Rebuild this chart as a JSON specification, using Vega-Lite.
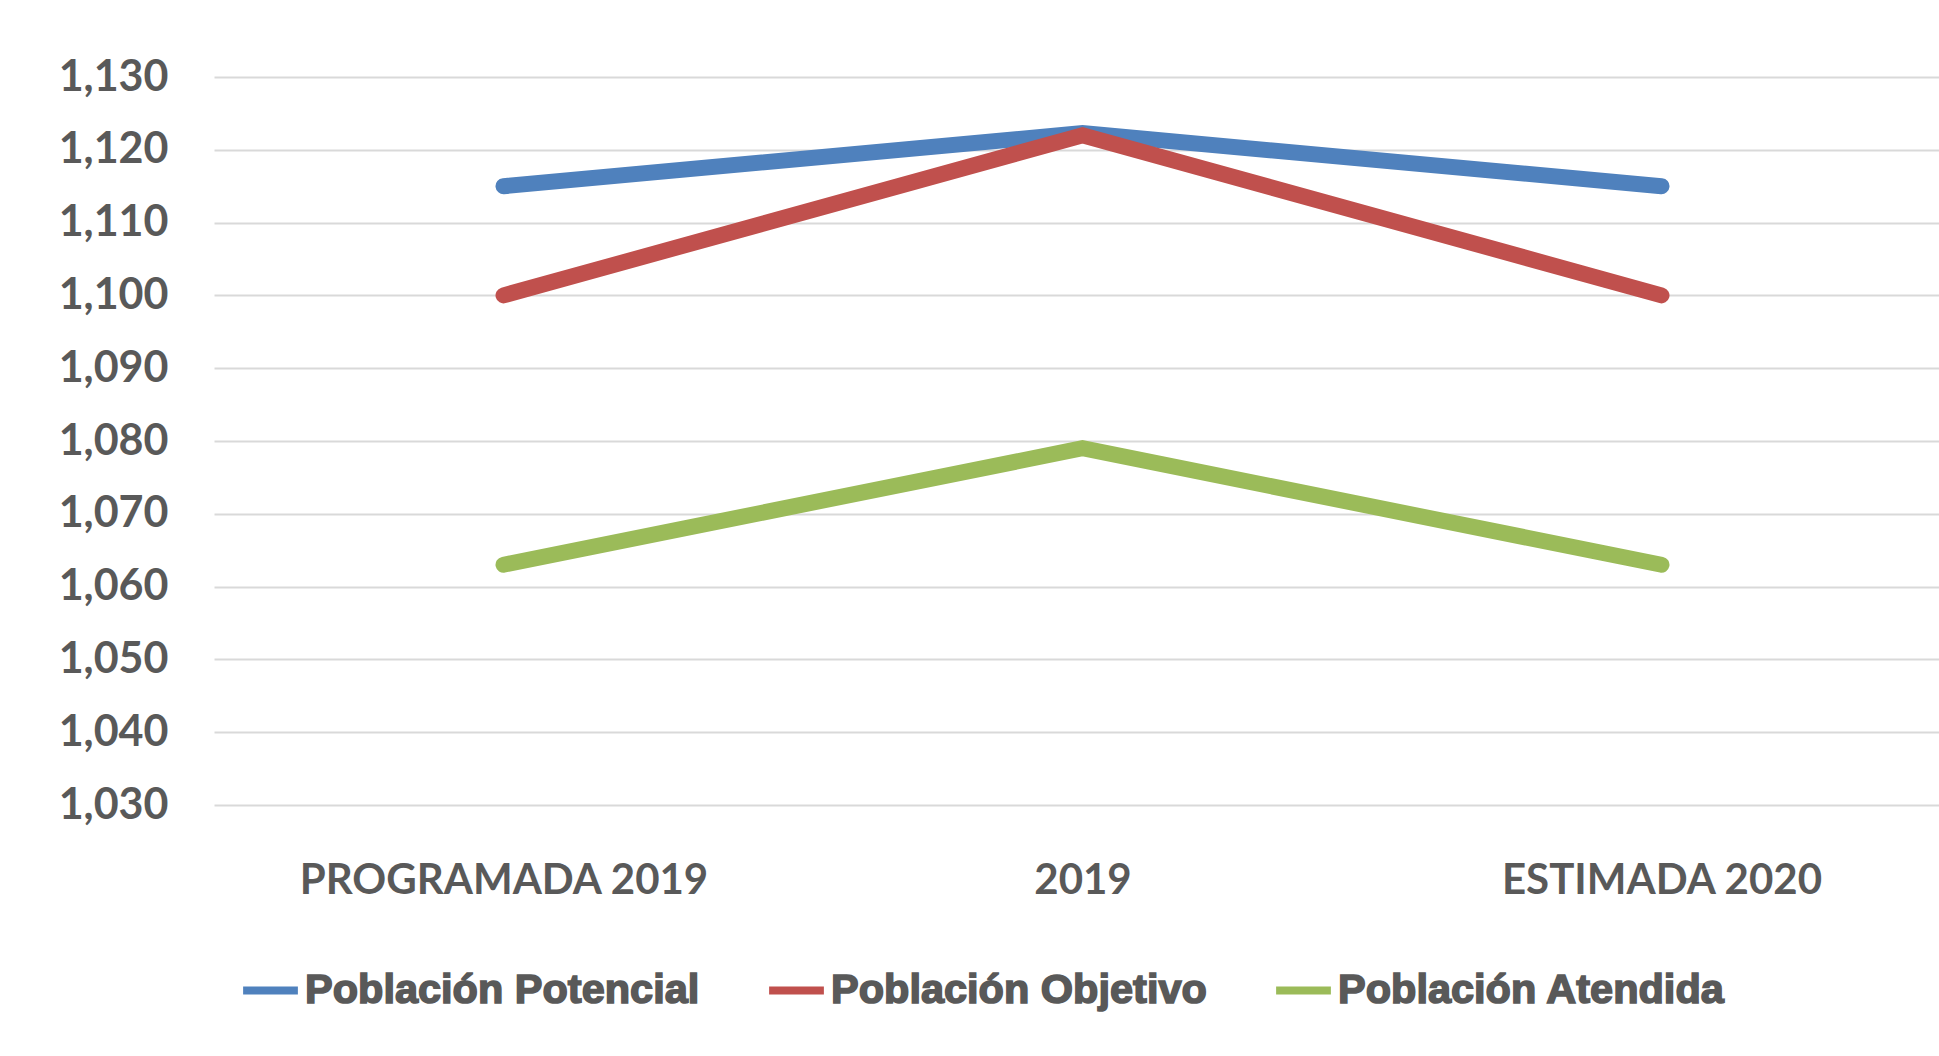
{
  "$schema": "https://vega.github.io/schema/vega-lite/v6.json",
  "autosize": {"type": "none"},
  "padding": {"left": 214, "top": 77, "right": 0, "bottom": 251},
  "width": 1737,
  "height": 728,
  "background": "white",
  "config": {"view": {"stroke": null}},
  "data": {
    "values": [
      {"periodo": "PROGRAMADA 2019", "serie": "Población Potencial", "valor": 1115},
      {"periodo": "2019", "serie": "Población Potencial", "valor": 1122.3},
      {"periodo": "ESTIMADA 2020", "serie": "Población Potencial", "valor": 1115},
      {"periodo": "PROGRAMADA 2019", "serie": "Población Objetivo", "valor": 1100},
      {"periodo": "2019", "serie": "Población Objetivo", "valor": 1122},
      {"periodo": "ESTIMADA 2020", "serie": "Población Objetivo", "valor": 1100},
      {"periodo": "PROGRAMADA 2019", "serie": "Población Atendida", "valor": 1063},
      {"periodo": "2019", "serie": "Población Atendida", "valor": 1079},
      {"periodo": "ESTIMADA 2020", "serie": "Población Atendida", "valor": 1063}
    ]
  },
  "mark": {"type": "line", "strokeWidth": 16, "strokeCap": "round", "strokeJoin": "miter"},
  "encoding": {
    "x": {
      "field": "periodo",
      "type": "ordinal",
      "sort": ["PROGRAMADA 2019", "2019", "ESTIMADA 2020"],
      "scale": {"type": "point", "padding": 0.5},
      "axis": {
        "title": null,
        "domain": false,
        "ticks": false,
        "tickSize": 0,
        "grid": false,
        "labelAngle": 0,
        "labelFont": "Lato",
        "labelFontWeight": "bold",
        "labelFontSize": 42,
        "labelColor": "#595959",
        "labelBaseline": "middle",
        "labelPadding": 75,
        "labelLimit": 800
      }
    },
    "y": {
      "field": "valor",
      "type": "quantitative",
      "scale": {"domain": [1030, 1130], "zero": false, "nice": false},
      "axis": {
        "title": null,
        "values": [1030, 1040, 1050, 1060, 1070, 1080, 1090, 1100, 1110, 1120, 1130],
        "format": ",d",
        "domain": false,
        "ticks": false,
        "tickSize": 0,
        "grid": true,
        "gridColor": "#D9D9D9",
        "gridWidth": 2,
        "labelFont": "Lato",
        "labelFontWeight": "bold",
        "labelFontSize": 43,
        "labelColor": "#595959",
        "labelPadding": 46
      }
    },
    "color": {
      "field": "serie",
      "type": "nominal",
      "sort": ["Población Potencial", "Población Objetivo", "Población Atendida"],
      "scale": {
        "domain": ["Población Potencial", "Población Objetivo", "Población Atendida"],
        "range": ["#4F81BD", "#C0504D", "#9BBB59"]
      },
      "legend": {
        "title": null,
        "orient": "none",
        "direction": "horizontal",
        "legendX": 25,
        "legendY": 882,
        "padding": 0,
        "symbolType": "stroke",
        "symbolStrokeWidth": 8,
        "symbolSize": 3000,
        "labelFont": "Liberation Sans",
        "labelFontWeight": "bold",
        "labelFontSize": 41.5,
        "labelColor": "#595959",
        "labelOffset": 3,
        "columnPadding": 53,
        "labelLimit": 600,
        "encode": {
          "labels": {
            "update": {
              "stroke": {"value": "#595959"},
              "strokeWidth": {"value": 1.6}
            }
          }
        }
      }
    }
  }
}
